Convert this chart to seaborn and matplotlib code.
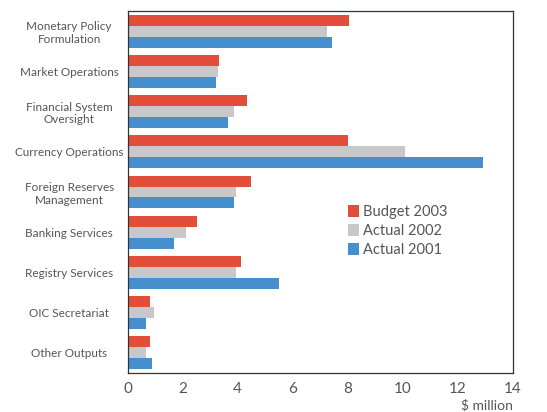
import numpy as np
import pandas as pd
import matplotlib
matplotlib.use("Agg")
import matplotlib.pyplot as plt
import seaborn as sns
from matplotlib.ticker import FixedLocator

categories = ["Monetary Policy\nFormulation", "Market Operations", "Financial System\nOversight",
              "Currency Operations", "Foreign Reserves\nManagement", "Banking Services",
              "Registry Services", "OIC Secretariat", "Other Outputs"]
budget_2003 = [8.05, 3.33, 4.33, 8.00, 4.48, 2.52, 4.13, 0.82, 0.82]
actual_2002 = [7.26, 3.29, 3.87, 10.08, 3.94, 2.12, 3.94, 0.96, 0.67]
actual_2001 = [7.44, 3.21, 3.66, 12.90, 3.87, 1.69, 5.49, 0.67, 0.89]
series = ["Budget 2003", "Actual 2002", "Actual 2001"]
x_ticks = [0, 2, 4, 6, 8, 10, 12, 14]

rows = []
for s, vals in zip(series, [budget_2003, actual_2002, actual_2001]):
    for c, v in zip(categories, vals):
        rows.append({"Category": c, "Series": s, "Value": v})
df = pd.DataFrame(rows)

sns.set_style("white")
plt.rcParams["font.family"] = ["Lato", "DejaVu Sans"]
text_col = "#555555"

fig = plt.figure(figsize=(5.47, 4.12), dpi=100)
ax = fig.add_axes([127.5/547, 1-373/412, (513-127.5)/547, (373-11)/412])

palette = {"Budget 2003": "#E34E3A", "Actual 2002": "#C8C8CA", "Actual 2001": "#468FCE"}
sns.barplot(data=df, y="Category", x="Value", hue="Series", hue_order=series,
            order=categories, palette=palette, orient="h", width=0.82,
            saturation=1, ax=ax, edgecolor="none", linewidth=0)

ax.set_xlim(0, 14)
ax.set_ylim(8.5, -0.5)
ax.set_xticks(x_ticks)
ax.set_xticklabels([str(t) for t in x_ticks], fontsize=11, color=text_col)
ax.tick_params(axis="x", direction="out", length=3, width=0.8, color="#333333", pad=3.5)
ax.set_xlabel("")
ax.set_ylabel("")

ax.set_yticks(range(len(categories)))
ax.set_yticklabels(categories, fontsize=8.5, color=text_col, ha="center", multialignment="center")
ax.tick_params(axis="y", which="major", length=0, pad=42)
ax.yaxis.set_minor_locator(FixedLocator(np.arange(-0.5, 9.0, 1.0)))
ax.tick_params(axis="y", which="minor", direction="out", length=3, width=0.8, color="#333333")

for sp in ax.spines.values():
    sp.set_visible(True)
    sp.set_color("#333333")
    sp.set_linewidth(0.9)

handles, labels = ax.get_legend_handles_labels()
ax.legend(handles, labels, loc="upper left", bbox_to_anchor=(341/547, 1-198/412),
          bbox_transform=fig.transFigure, frameon=False, fontsize=10.5,
          handlelength=0.7, handleheight=0.9, handletextpad=0.3, labelspacing=0.32,
          labelcolor=text_col, borderpad=0)

fig.text(487/547, 0.5/412, "$ million", fontsize=10, color=text_col, ha="center", va="bottom")

fig.savefig("out.png", dpi=100)
